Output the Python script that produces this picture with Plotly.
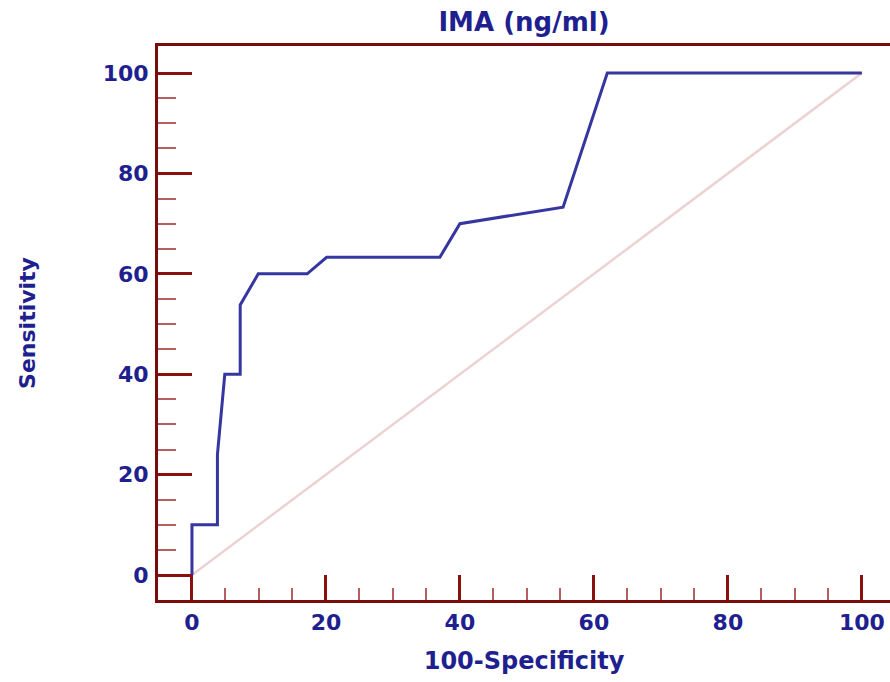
import plotly.graph_objects as go

# ROC curve for IMA (ng/ml)
fpr = [0, 0, 3.8, 3.8, 4.9, 7.2, 7.2, 9.9, 17.2, 20.1, 37.0, 40.0, 55.4, 62.0, 100]
tpr = [0, 10, 10, 24, 40, 40, 53.8, 60, 60, 63.3, 63.3, 70, 73.3, 100, 100]

ref_x = [0, 100]
ref_y = [0, 100]

tick_vals = [0, 20, 40, 60, 80, 100]
tick_text = ["0", "20", "40", "60", "80", "100"]
minor_vals = [5, 10, 15, 25, 30, 35, 45, 50, 55, 65, 70, 75, 85, 90, 95]

title_text = "IMA (ng/ml)"
x_title = "100-Specificity"
y_title = "Sensitivity"

axis_red = "#7a0c0c"
text_blue = "#1f1f8f"
font_family = "DejaVu Sans"

fig = go.Figure()

fig.add_trace(go.Scatter(
    x=ref_x, y=ref_y, mode="lines",
    line=dict(color="#ecd2d2", width=2.5),
    hoverinfo="skip", showlegend=False,
))
fig.add_trace(go.Scatter(
    x=fpr, y=tpr, mode="lines",
    line=dict(color="#3636a0", width=3),
    showlegend=False,
))

fig.update_layout(
    width=890, height=682,
    margin=dict(l=158, r=0, t=46, b=82),
    paper_bgcolor="white", plot_bgcolor="white",
    title=dict(
        text=title_text, x=(158 + 890) / 2 / 890, xanchor="center",
        y=1 - 22 / 682, yanchor="middle",
        font=dict(family=font_family, size=26, color=text_blue, weight="bold"),
    ),
    font=dict(family=font_family, color=text_blue),
)

fig.update_xaxes(
    range=[-5.07, 104.2],
    tickvals=tick_vals, ticktext=tick_text,
    ticks="inside", ticklen=25, tickwidth=3, tickcolor="#8a1010",
    minor=dict(tickvals=minor_vals, ticks="inside", ticklen=12, tickwidth=2, tickcolor="#b56060"),
    showline=True, linecolor=axis_red, linewidth=3, mirror=True,
    showgrid=False, zeroline=False,
    ticklabelstandoff=1,
    tickfont=dict(family=font_family, size=22, color=text_blue, weight="bold"),
    title=dict(text=x_title, standoff=18,
               font=dict(family=font_family, size=24, color=text_blue, weight="bold")),
)
fig.update_yaxes(
    range=[-4.98, 105.4],
    tickvals=tick_vals, ticktext=tick_text,
    ticks="inside", ticklen=34, tickwidth=3, tickcolor="#8a1010",
    minor=dict(tickvals=minor_vals, ticks="inside", ticklen=18, tickwidth=2, tickcolor="#b56060"),
    showline=True, linecolor=axis_red, linewidth=3,
    showgrid=False, zeroline=False,
    ticklabelstandoff=2,
    tickfont=dict(family=font_family, size=22, color=text_blue, weight="bold"),
    title=dict(text=y_title, standoff=61,
               font=dict(family=font_family, size=22, color=text_blue, weight="bold")),
)

fig.write_html("out.html")
